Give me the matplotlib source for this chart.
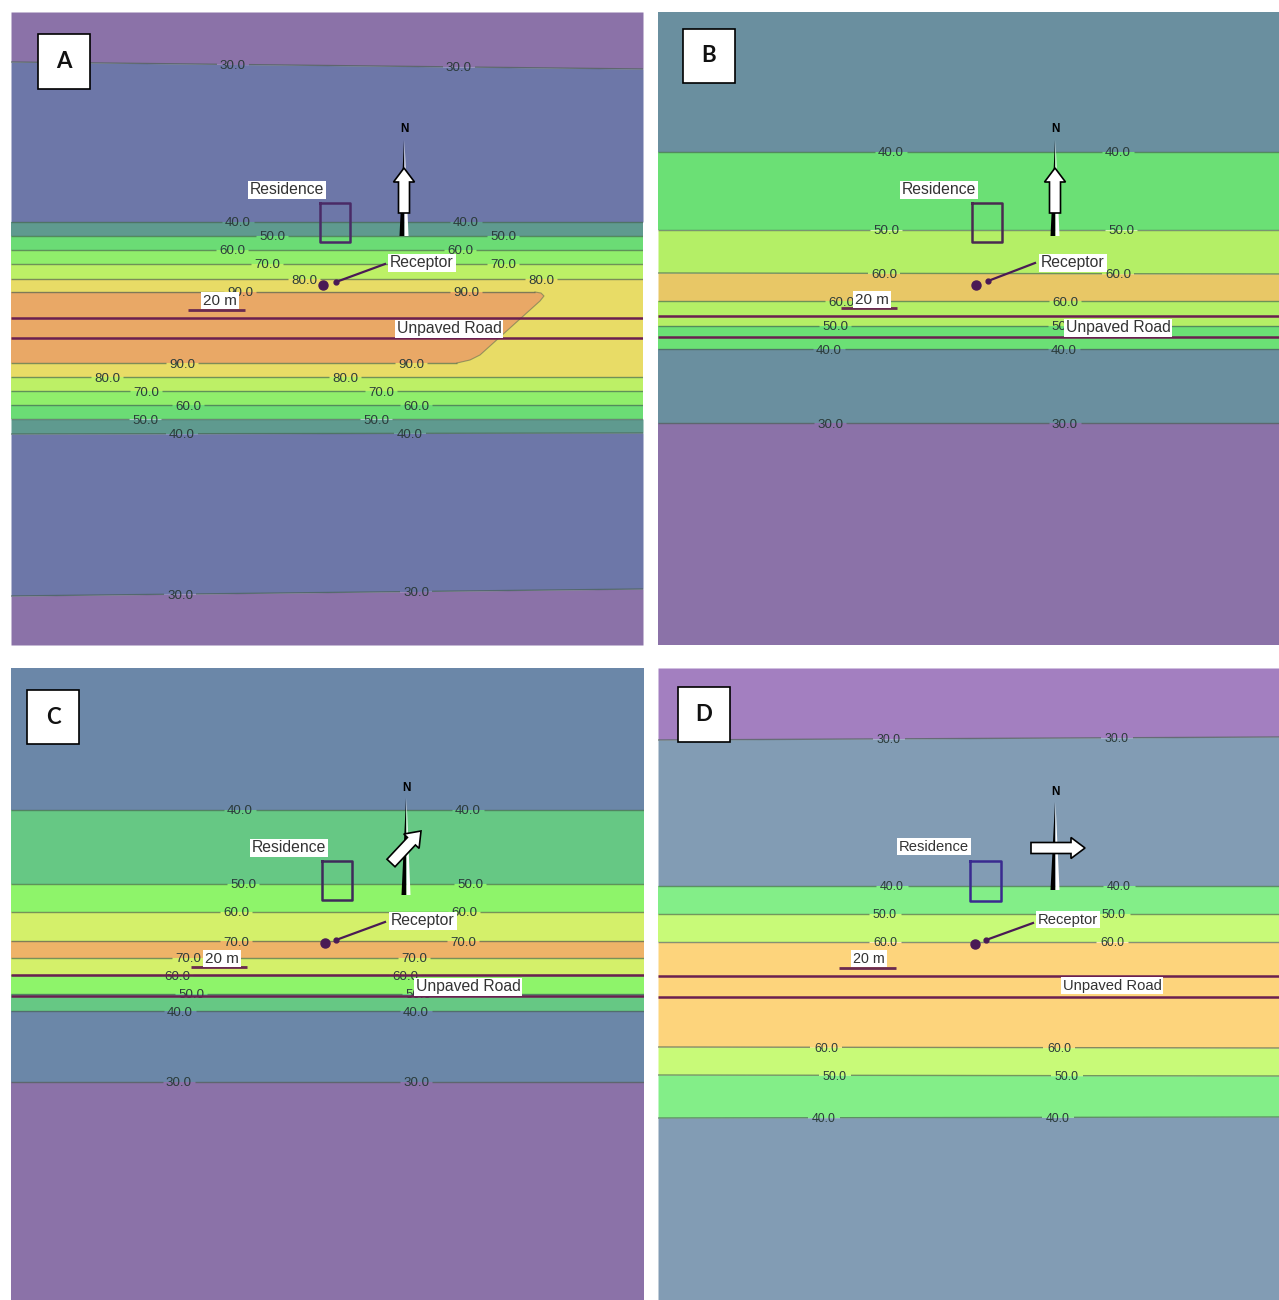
import matplotlib
matplotlib.use("Agg")
import matplotlib.pyplot as plt
import numpy as np

plt.rcParams['font.family'] = ['Liberation Sans', 'DejaVu Sans']
W, H = 1279, 1300

# ---- contour data, read in image pixels (y of each iso-line at left / right edge)
A_levels = [30, 40, 50, 60, 70, 80, 80, 70, 60, 50, 40, 30]
A_left = [62, 222, 236, 250, 264, 279, 377, 391, 405, 419, 434, 596]
A_right = [69, 222, 236, 250, 264, 279, 377, 391, 405, 419, 433, 589]
A_lab1 = [233, 238, 272, 232, 267, 304, 107, 146, 188, 145, 182, 180]
A_lab2 = [459, 466, 503, 460, 503, 541, 345, 381, 416, 376, 410, 416]
A_colors = ['#8b72a8', '#6d77a8', '#5f9a8f', '#6bdc75', '#90ee6b', '#bdf066', '#e8dc66',
            '#bdf066', '#90ee6b', '#6bdc75', '#5f9a8f', '#6d77a8', '#8b72a8']
A_core_x = [11, 535, 541, 544, 540, 480, 470, 457, 11]
A_core_y = [292, 292, 293, 296, 301, 355, 360, 363, 363]
A_core_color = '#e9a866'
A_core_labels = [(240, 292), (466, 292), (182, 363), (411, 363)]

B_levels = [40, 50, 60, 60, 50, 40, 30]
B_left = [152, 230, 273, 301, 326, 349, 423]
B_right = [152, 230, 274, 301, 326, 349, 423]
B_lab1 = [891, 886, 884, 841, 835, 829, 830]
B_lab2 = [1118, 1121, 1118, 1065, 1064, 1064, 1065]
B_colors = ['#6a8f9f', '#6be075', '#b4ef66', '#e8c766', '#b4ef66', '#6be075', '#6a8f9f', '#8b72a8']

C_levels = [40, 50, 60, 70, 70, 60, 50, 40, 30]
C_left = [810, 884, 912, 941, 958, 975, 994, 1011, 1082]
C_right = [810, 884, 912, 941, 958, 975, 994, 1011, 1082]
C_lab1 = [240, 243, 236, 236, 188, 177, 191, 180, 179]
C_lab2 = [468, 470, 464, 463, 414, 405, 418, 416, 416]
C_colors = ['#6b87a8', '#66c884', '#8ef46a', '#d4f06a', '#eeb368', '#d4f06a', '#8ef46a', '#66c884', '#6b87a8', '#8b72a8']

D_levels = [30, 40, 50, 60, 60, 50, 40]
D_left = [740, 886, 914, 942, 1047, 1075, 1118]
D_right = [737, 886, 914, 942, 1048, 1076, 1117]
D_lab1 = [889, 892, 885, 885, 826, 835, 824]
D_lab2 = [1117, 1119, 1114, 1112, 1059, 1067, 1058]
D_colors = ['#a37fc0', '#829cb4', '#83ee88', '#c8fa78', '#fdd47c', '#c8fa78', '#83ee88', '#829cb4']

PANELS = [
    dict(letter='A', rect=(11, 12, 643, 645), levels=A_levels, left=A_left, right=A_right, lab1=A_lab1, lab2=A_lab2,
         colors=A_colors, lbox=(38, 34, 90, 89), res=(287, 189), house=(320, 203, 350, 242), rec=(422, 262),
         dot=(323, 285), lead=(385, 264, 336, 282), road_lab=(449, 328), scale=(220, 300, 188, 245, 310),
         roads=(318, 338), north=(404, 128, 140, 236), arrow=(404, 213, 0, -45), fs=9.6, hc='#4a2a66'),
    dict(letter='B', rect=(658, 12, 1279, 645), levels=B_levels, left=B_left, right=B_right, lab1=B_lab1, lab2=B_lab2,
         colors=B_colors, lbox=(683, 29, 735, 83), res=(939, 189), house=(972, 203, 1002, 242), rec=(1073, 262),
         dot=(976, 285), lead=(1035, 263, 988, 281), road_lab=(1118, 327), scale=(872, 299, 841, 897, 308),
         roads=(316, 337), north=(1055, 128, 140, 236), arrow=(1055, 213, 0, -45), fs=9.6, hc='#4a2a50'),
    dict(letter='C', rect=(11, 668, 644, 1300), levels=C_levels, left=C_left, right=C_right, lab1=C_lab1, lab2=C_lab2,
         colors=C_colors, lbox=(27, 690, 79, 744), res=(289, 847), house=(322, 861, 352, 900), rec=(423, 920),
         dot=(325, 943), lead=(385, 922, 336, 940), road_lab=(468, 986), scale=(222, 958, 191, 247, 967),
         roads=(975, 996), north=(406, 787, 798, 895), arrow=(391, 863, 30, -32), fs=9.6, hc='#3f2a5a'),
    dict(letter='D', rect=(658, 668, 1279, 1300), levels=D_levels, left=D_left, right=D_right, lab1=D_lab1, lab2=D_lab2,
         colors=D_colors, lbox=(678, 687, 730, 742), res=(934, 846), house=(970, 861, 1001, 901), rec=(1068, 919),
         dot=(975, 944), lead=(1033, 923, 986, 940), road_lab=(1112, 985), scale=(869, 958, 839, 896, 968),
         roads=(976, 997), north=(1055, 791, 802, 890), arrow=(1031, 848, 54, 0), fs=8.9, hc='#3a2a90'),
]

LINE = '#46604f'
TXT = '#2b3b3a'
INK = '#4a1a55'
TEXT_DY = 1.5

fig = plt.figure(figsize=(W / 100, H / 100), dpi=100, facecolor='white')


def gapped_line(ax, x0, x1, y0, y1, gaps, half=16):
    edges = [x0]
    for g in sorted(gaps):
        edges += [g - half, g + half]
    edges.append(x1)
    for a, b in zip(edges[::2], edges[1::2]):
        if b > a:
            ya = y0 + (y1 - y0) * (a - x0) / (x1 - x0)
            yb = y0 + (y1 - y0) * (b - x0) / (x1 - x0)
            ax.plot([a, b], [ya, yb], color=LINE, lw=1.0, alpha=0.65, zorder=3, solid_capstyle='butt')


def white_label(ax, x, y, s, fs):
    ax.text(x, y + TEXT_DY * 0.5, s, ha='center', va='center', fontsize=fs, color='#333333', zorder=8,
            bbox=dict(facecolor='white', edgecolor='none', pad=1.2))


for p in PANELS:
    x0, y0, x1, y1 = p['rect']
    ax = fig.add_axes([x0 / W, 1 - y1 / H, (x1 - x0) / W, (y1 - y0) / H])
    ax.set_xlim(x0, x1)
    ax.set_ylim(y1, y0)
    ax.axis('off')
    xs = [x0, x1]
    tops = [y0, y0]
    for c, yl, yr in zip(p['colors'], p['left'] + [y1], p['right'] + [y1]):
        ax.fill_between(xs, tops, [yl, yr], color=c, lw=0, zorder=1)
        tops = [yl, yr]
    for lev, yl, yr, a, b in zip(p['levels'], p['left'], p['right'], p['lab1'], p['lab2']):
        gapped_line(ax, x0, x1, yl, yr, [a, b])
        for lx in (a, b):
            ly = yl + (yr - yl) * (lx - x0) / (x1 - x0)
            ax.text(lx, ly + TEXT_DY, f'{lev:.1f}', ha='center', va='center', fontsize=p['fs'], color=TXT, zorder=4)
    if p['letter'] == 'A':
        ax.fill(A_core_x, A_core_y, color=A_core_color, lw=0, zorder=2)
        ax.plot(A_core_x[1:-1], A_core_y[1:-1], color=LINE, lw=0.8, alpha=0.5, zorder=3)
        gapped_line(ax, x0, A_core_x[1], A_core_y[0], A_core_y[1], [q[0] for q in A_core_labels[:2]])
        gapped_line(ax, x0, A_core_x[7], A_core_y[7], A_core_y[8], [q[0] for q in A_core_labels[2:]])
        for lx, ly in A_core_labels:
            ax.text(lx, ly + TEXT_DY, '90.0', ha='center', va='center', fontsize=p['fs'], color=TXT, zorder=4)

    # road
    for ry in p['roads']:
        ax.plot([x0, x1], [ry, ry], color='#6a1f50', lw=1.8, zorder=5, solid_capstyle='butt')
    # residence
    hx0, hy0, hx1, hy1 = p['house']
    ax.plot([hx0, hx1, hx1, hx0, hx0], [hy0, hy0, hy1, hy1, hy0], color=p['hc'], lw=1.8, zorder=6)
    big = p['fs'] + 1.7
    white_label(ax, *p['res'], 'Residence', big)
    white_label(ax, *p['rec'], 'Receptor', big)
    white_label(ax, *p['road_lab'], 'Unpaved Road', big)
    # receptor
    ax.plot(*p['dot'], 'o', color=INK, ms=6.5, zorder=6)
    lx0, ly0, lx1, ly1 = p['lead']
    ax.plot([lx0, lx1], [ly0, ly1], color=INK, lw=1.6, zorder=6)
    ax.plot(lx1, ly1, 'o', color=INK, ms=3.5, zorder=6)
    # scale bar
    sx, sy, sb0, sb1, sby = p['scale']
    ax.plot([sb0, sb1], [sby, sby], color='#6a2a50', lw=2, zorder=6, solid_capstyle='butt')
    white_label(ax, sx, sy, '20 m', big - 0.3)
    # north needle
    nx, ny, n0, n1 = p['north']
    ax.text(nx, ny + 1, 'N', ha='center', va='center', fontsize=8.5, fontweight='bold', color='black', zorder=7)
    ax.fill([nx, nx - 4.5, nx + 0.5], [n0, n1, n1], color='black', lw=0, zorder=6)
    ax.fill([nx + 0.5, nx + 4.5, nx + 0.5], [n0, n1, n1], color='white', lw=0, zorder=6)
    # wind arrow
    ax0, ay0, adx, ady = p['arrow']
    ax.arrow(ax0, ay0, adx, ady, width=11, head_width=21, head_length=14, length_includes_head=True,
             fc='white', ec='black', lw=1.2, zorder=7)
    # panel letter box
    bx0, by0, bx1, by1 = p['lbox']
    ax.fill([bx0, bx1, bx1, bx0], [by0, by0, by1, by1], facecolor='white', edgecolor='black', lw=1.2, zorder=9)
    ax.text((bx0 + bx1) / 2, (by0 + by1) / 2, p['letter'], ha='center', va='center', fontsize=16,
            fontweight='bold', color='#111111', zorder=10, family=['Lato', 'DejaVu Sans'])

fig.savefig('out.png', dpi=100, facecolor='white')
